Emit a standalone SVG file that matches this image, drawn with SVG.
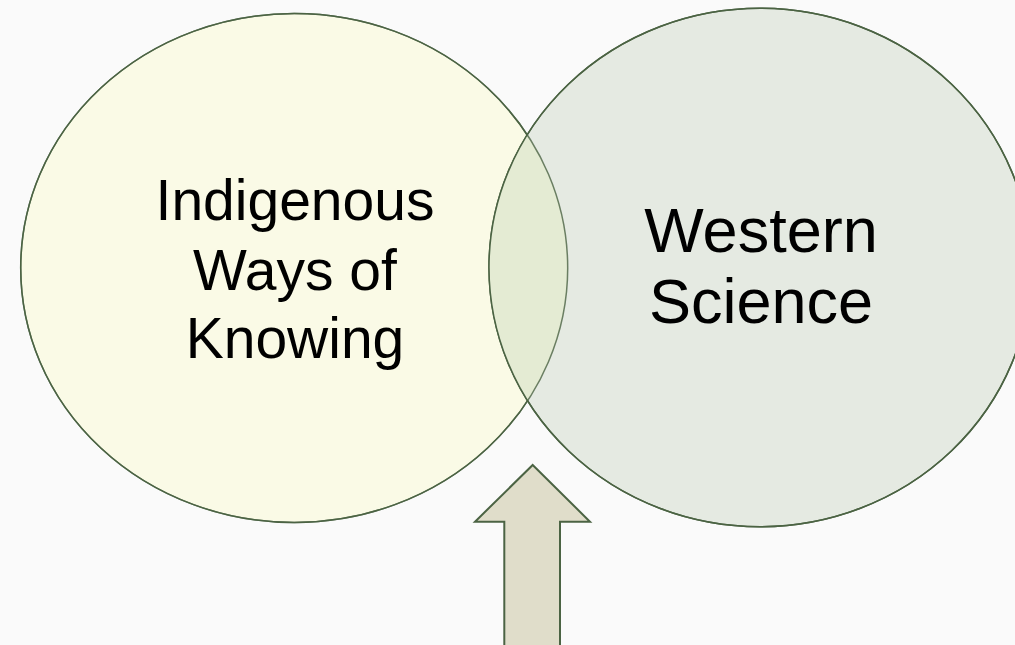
<svg xmlns="http://www.w3.org/2000/svg" width="1015" height="645" viewBox="0 0 1015 645">
<defs>
<style>
.c{stroke:#4b6343;stroke-width:1.5}
.a{stroke:#4b6343;stroke-width:2;fill:#e0ddca}
.t{font-family:"Liberation Sans",Arial,sans-serif;fill:#000;text-anchor:middle}
</style>
<clipPath id="clipL"><ellipse cx="294.2" cy="268" rx="273.5" ry="254.5"/></clipPath>
</defs>
<rect width="1015" height="645" fill="#fafafa"/>
<g id="node-indigenous">
<ellipse class="c" cx="294.2" cy="268" rx="273.5" ry="254.5" fill="#fafae6"/>
</g>
<g id="node-western">
<ellipse class="c" cx="760" cy="267.5" rx="271" ry="259.2" fill="#e5eae2"/>
</g>
<g id="overlap">
<ellipse cx="760" cy="267.5" rx="271" ry="259.2" fill="#e4ebd3" clip-path="url(#clipL)"/>
<ellipse cx="294.2" cy="268" rx="273.5" ry="254.5" fill="none" stroke="#4b6343" stroke-width="1.5" opacity="0.8"/>
<ellipse cx="760" cy="267.5" rx="271" ry="259.2" fill="none" stroke="#4b6343" stroke-width="1.5"/>
</g>
<g id="labels">
<text class="t" font-size="57" x="295" y="220">Indigenous</text>
<text class="t" font-size="57" x="295" y="290">Ways of</text>
<text class="t" font-size="57" x="295" y="358">Knowing</text>
<text class="t" font-size="63" x="761" y="252">Western</text>
<text class="t" font-size="63" x="761" y="323">Science</text>
</g>
<g id="connectors">
<path class="a" d="M532.7,465 L590,521.7 L560,521.7 L560,650 L504.3,650 L504.3,521.7 L475,521.7 Z"/>
</g>
</svg>
